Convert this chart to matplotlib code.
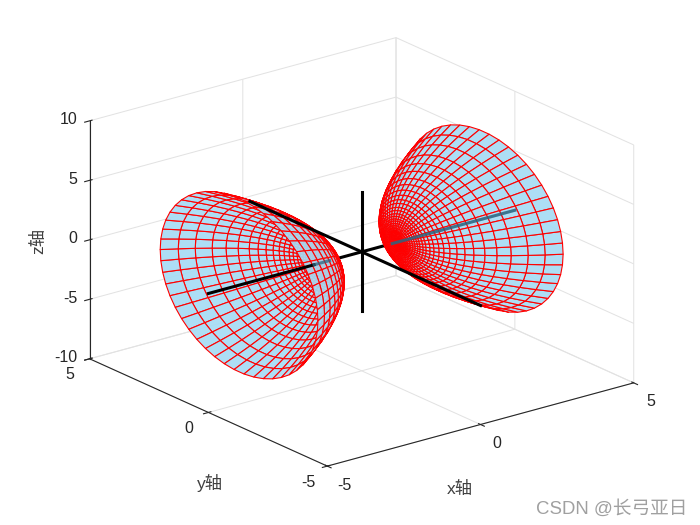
import numpy as np
import matplotlib
matplotlib.use('Agg')
import matplotlib.pyplot as plt
from matplotlib.text import Text
from matplotlib.transforms import ScaledTranslation

plt.rcParams['font.family'] = ['Liberation Sans', 'Noto Sans CJK SC', 'DejaVu Sans']
plt.rcParams['grid.color'] = '#e2e2e2'
plt.rcParams['grid.linewidth'] = 0.72
plt.rcParams['axes.unicode_minus'] = False

# rings of each sheet, read along the x axis (x position, relative radius)
ring_x = [1.15, 1.154, 1.164, 1.177, 1.192, 1.211, 1.232, 1.255, 1.281, 1.306, 1.341, 1.378, 1.429,
          1.483, 1.557, 1.631, 1.727, 1.846, 1.984, 2.145, 2.354, 2.591, 2.875, 3.231, 3.599, 4.0]
ring_r = [0.0, 0.140, 0.271, 0.373, 0.471, 0.563, 0.656, 0.741, 0.826, 0.903, 1.000, 1.092, 1.208,
          1.320, 1.459, 1.586, 1.737, 1.906, 2.088, 2.281, 2.508, 2.744, 3.002, 3.298, 3.577, 3.859]
y_scale = 0.86
z_scale = 1.89
n_meridians = 50

x_ticks = [-5, 0, 5]
y_ticks = [-5, 0, 5]
z_ticks = [-10, -5, 0, 5, 10]

# thick black reference lines
x_line_open = [-5, -1.55]
x_line_hidden_left = [-1.55, -1.05]
x_line_middle = [-1.05, 1.0]
x_line_hidden_right = [1.0, 5]
y_line = [-5, 4.7]
z_line = [-5, 5]

face_col = '#a6dcf5'
teal = '#2b6580'

fig = plt.figure(figsize=(7, 5.25), dpi=100)
ax = fig.add_axes([0.15, 0.0314, 0.714, 0.952], projection='3d', computed_zorder=False)
ax.set_proj_type('ortho')
ax.view_init(elev=20.5, azim=-127.8)
ax.set_box_aspect((1, 1, 0.655), zoom=1.174)

v = np.linspace(0, 2 * np.pi, n_meridians + 1)
rings_x = np.array(ring_x)
rings_r = np.array(ring_r)
X = np.outer(rings_x, np.ones_like(v))
Y = y_scale * np.outer(rings_r, np.cos(v))
Z = z_scale * np.outer(rings_r, np.sin(v))

ax.plot(x_line_hidden_right, [0, 0], [0, 0], color='k', lw=2.2, zorder=2)
ax.plot(x_line_middle, [0, 0], [0, 0], color='k', lw=2.2, zorder=2)
ax.plot_surface(X, Y, Z, rstride=1, cstride=1, color=face_col, edgecolor='r', linewidth=0.8,
                shade=False, antialiased=True, alpha=0.92, zorder=3)
ax.plot(x_line_hidden_right, [0, 0], [0, 0], color=teal, lw=2.2, alpha=0.85, zorder=3.5)
ax.plot([0, 0], [0, 0], z_line, color='k', lw=2.2, zorder=4)
ax.plot_surface(-X, Y, Z, rstride=1, cstride=1, color=face_col, edgecolor='r', linewidth=0.8,
                shade=False, antialiased=True, alpha=0.92, zorder=5)
ax.plot([0, 0], y_line, [0, 0], color='k', lw=2.2, zorder=6)
ax.plot(x_line_open, [0, 0], [0, 0], color='k', lw=2.2, zorder=6)
ax.plot(x_line_hidden_left, [0, 0], [0, 0], color=teal, lw=2.2, alpha=0.75, zorder=6)

ax.set_xlim(-5, 5)
ax.set_ylim(-5, 5)
ax.set_zlim(-10, 10)
ax.set_xticks(x_ticks)
ax.set_yticks(y_ticks)
ax.set_zticks(z_ticks)

for axis in (ax.xaxis, ax.yaxis, ax.zaxis):
    axis.set_pane_color((1, 1, 1, 0))
    axis.pane.set_edgecolor('#dcdcdc')
    axis.pane.set_linewidth(0.72)
    axis.line.set_color('#262626')
    axis.line.set_linewidth(0.8)
    axis.set_rotate_label(False)
ax.tick_params(labelsize=11.5, colors='#262626', pad=2)

ax.set_xlabel('x轴', fontsize=12.5, color='#404040', rotation=0, labelpad=8)
ax.set_ylabel('y轴', fontsize=12.5, color='#404040', rotation=0, labelpad=8)
ax.set_zlabel('z轴', fontsize=12.5, color='#404040', rotation=90, labelpad=8)


def nudge(artist, dx, dy):
    # pixels at dpi 100, y up. mplot3d resets transforms before drawing, so block that
    shift = ScaledTranslation(dx / 100, dy / 100, fig.dpi_scale_trans)
    artist.set_transform(ax.transData + shift)
    artist.set_transform = lambda t: None


def nudge_label(label, dx, dy):
    # axis labels get a new position in 2d data units on each draw
    px = 500 / 0.185
    label.set_position = lambda pos: Text.set_position(label, (pos[0] + dx / px, pos[1] + dy / px))


for tick in ax.xaxis.get_major_ticks():
    nudge(tick.label1, 4, 7)
for tick in ax.yaxis.get_major_ticks():
    nudge(tick.label1, -3, 8.5)
for tick in ax.zaxis.get_major_ticks():
    tick.label1.set_ha('right')
    nudge(tick.label1, 17, 7.5)
nudge_label(ax.xaxis.label, -57, -11.5)
nudge_label(ax.yaxis.label, 49, -20.5)
nudge_label(ax.zaxis.label, 33, -4.5)

fig.text(0.982, 0.014, 'CSDN @长弓亚日', fontsize=13.4, color='#a0a0a0', ha='right', va='bottom')

fig.savefig('out.png', dpi=100)
